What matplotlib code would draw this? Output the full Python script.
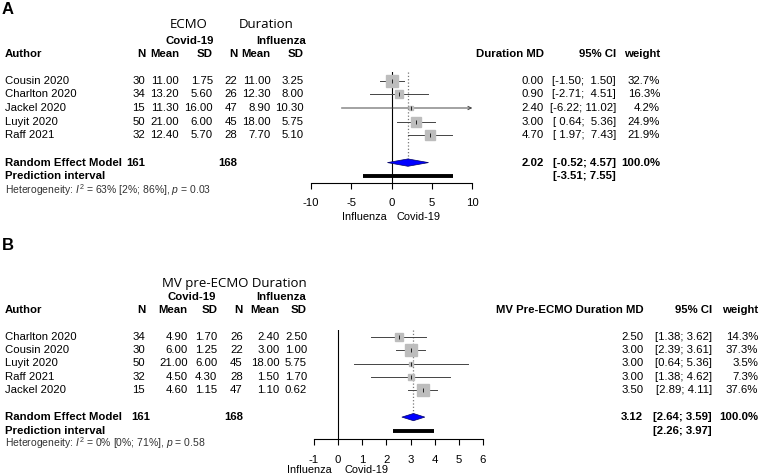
import numpy as np
import matplotlib
matplotlib.use("Agg")
import matplotlib.pyplot as plt
from matplotlib.patches import Polygon
from matplotlib.transforms import blended_transform_factory

plt.rcParams['font.family'] = ['Liberation Sans', 'DejaVu Sans']
plt.rcParams['mathtext.fontset'] = 'custom'
plt.rcParams['mathtext.rm'] = 'Liberation Sans'
plt.rcParams['mathtext.it'] = 'Liberation Sans:italic'
plt.rcParams['axes.unicode_minus'] = False

# ---- panel A: ECMO duration ----
authors_a = ["Cousin 2020", "Charlton 2020", "Jackel 2020", "Luyit 2020", "Raff 2021"]
n_cov_a = [30, 34, 15, 50, 32]
mean_cov_a = [11.00, 13.20, 11.30, 21.00, 12.40]
sd_cov_a = [1.75, 5.60, 16.00, 6.00, 5.70]
n_flu_a = [22, 26, 47, 45, 28]
mean_flu_a = [11.00, 12.30, 8.90, 18.00, 7.70]
sd_flu_a = [3.25, 8.00, 10.30, 5.75, 5.10]
md_a = [0.00, 0.90, 2.40, 3.00, 4.70]
lo_a = [-1.50, -2.71, -6.22, 0.64, 1.97]
hi_a = [1.50, 4.51, 11.02, 5.36, 7.43]
w_a = [32.7, 16.3, 4.2, 24.9, 21.9]
pooled_a = (2.02, -0.52, 4.57)
pred_a = (-3.51, 7.55)
het_a = r"Heterogeneity: $I^2$ = 63% [2%; 86%], $p$ = 0.03"
ticks_a = [-10, -5, 0, 5, 10]

# ---- panel B: MV pre-ECMO duration ----
authors_b = ["Charlton 2020", "Cousin 2020", "Luyit 2020", "Raff 2021", "Jackel 2020"]
n_cov_b = [34, 30, 50, 32, 15]
mean_cov_b = [4.90, 6.00, 21.00, 4.50, 4.60]
sd_cov_b = [1.70, 1.25, 6.00, 4.30, 1.15]
n_flu_b = [26, 22, 45, 28, 47]
mean_flu_b = [2.40, 3.00, 18.00, 1.50, 1.10]
sd_flu_b = [2.50, 1.00, 5.75, 1.70, 0.62]
md_b = [2.50, 3.00, 3.00, 3.00, 3.50]
lo_b = [1.38, 2.39, 0.64, 1.38, 2.89]
hi_b = [3.62, 3.61, 5.36, 4.62, 4.11]
w_b = [14.3, 37.3, 3.5, 7.3, 37.6]
pooled_b = (3.12, 2.64, 3.59)
pred_b = (2.26, 3.97)
het_b = r"Heterogeneity: $I^2$ = 0% [0%; 71%], $p$ = 0.58"
ticks_b = [-1, 0, 1, 2, 3, 4, 5, 6]

W, H = 759, 476
fig = plt.figure(figsize=(W / 100, H / 100), dpi=100)
bg = fig.add_axes([0, 0, 1, 1])
bg.set_xlim(0, W)
bg.set_ylim(H, 0)
bg.axis('off')

FS = 8.2


def ci_str(lo, hi):
    wl = max(len(f"{v:.2f}") for v in lo)
    wh = max(len(f"{v:.2f}") for v in hi)
    return [f"[{a:{wl}.2f}; {b:{wh}.2f}]" for a, b in zip(lo, hi)]


def panel(p):
    t = lambda x, y, s, **kw: bg.text(x, y, s, va='center', fontsize=kw.pop('fs', FS), **kw)
    # panel letter and titles
    t(2, p['y_letter'], p['letter'], fs=12, fontweight='bold')
    for x, s in p['titles']:
        t(x, p['y_title'], s, ha='center', fs=9.5, family='Open Sans')
    t(p['cx_cov'], p['y_group'], "Covid-19", ha='center', fontweight='bold')
    t(p['cx_flu'], p['y_group'], "Influenza", ha='center', fontweight='bold')
    cols = p['cols']
    t(5, p['y_head'], "Author", fontweight='bold')
    for x, s in zip(cols, ["N", "Mean", "SD", "N", "Mean", "SD"]):
        t(x, p['y_head'], s, ha='right', fontweight='bold')
    rx = p['rcols']
    t(rx[0], p['y_head'], p['md_label'], ha='right', fontweight='bold')
    t(rx[1], p['y_head'], "95% CI", ha='right', fontweight='bold')
    t(rx[2], p['y_head'], "weight", ha='right', fontweight='bold')

    cis = ci_str(p['lo'], p['hi'])
    for i, a in enumerate(p['authors']):
        y = p['y0'] + p['dy'] * i
        t(5, y, a)
        vals = [f"{p['n_cov'][i]}", f"{p['mean_cov'][i]:.2f}", f"{p['sd_cov'][i]:.2f}",
                f"{p['n_flu'][i]}", f"{p['mean_flu'][i]:.2f}", f"{p['sd_flu'][i]:.2f}"]
        for x, s in zip(cols, vals):
            t(x, y, s, ha='right')
        t(rx[0], y, f"{p['md'][i]:.2f}", ha='right')
        t(rx[1], y, cis[i], ha='right')
        t(rx[2], y, f"{p['w'][i]:.1f}%", ha='right')

    y_re = p['y0'] + p['dy'] * 6
    y_pi = p['y0'] + p['dy'] * 7
    t(5, y_re, "Random Effect Model", fontweight='bold')
    t(p['x_tot'][0], y_re, f"{sum(p['n_cov'])}", ha='right', fontweight='bold')
    t(p['x_tot'][1], y_re, f"{sum(p['n_flu'])}", ha='right', fontweight='bold')
    t(5, y_pi, "Prediction interval", fontweight='bold')
    est, plo, phi = p['pooled']
    t(rx[0], y_re, f"{est:.2f}", ha='right', fontweight='bold')
    t(rx[1], y_re, ci_str([plo], [phi])[0], ha='right', fontweight='bold')
    t(rx[2], y_re, "100.0%", ha='right', fontweight='bold')
    t(rx[1], y_pi, ci_str([p['pred'][0]], [p['pred'][1]])[0], ha='right', fontweight='bold')
    t(5, p['y_het'], p['het'], fs=7.5, color='#333333')

    # forest axes
    x0, x1, ytop, ybot = p['box']
    ax = fig.add_axes([x0 / W, 1 - ybot / H, (x1 - x0) / W, (ybot - ytop) / H])
    ax.patch.set_alpha(0)
    xmin, xmax = p['ticks'][0], p['ticks'][-1]
    ax.set_xlim(xmin, xmax)
    ax.set_ylim((ybot - p['y0']) / p['dy'], (ytop - p['y0']) / p['dy'])
    for s in ['top', 'right', 'left']:
        ax.spines[s].set_visible(False)
    ax.spines['bottom'].set_linewidth(0.8)
    ax.set_yticks([])
    ax.set_xticks(p['ticks'])
    ax.tick_params(axis='x', length=4, width=0.8, pad=7, labelsize=8.2)
    ax.axvline(0, color='black', lw=0.8)
    ax.plot([est, est], [ax.get_ylim()[1], 5.7], ls=':', color='#777777', lw=0.9)
    for i in range(len(p['md'])):
        lo, hi = p['lo'][i], p['hi'][i]
        lo_c, hi_c = max(lo, xmin), min(hi, xmax)
        if hi > xmax:
            ax.annotate('', xy=(hi_c, i), xytext=(lo_c, i),
                        arrowprops=dict(arrowstyle='->', lw=0.7, color='#444444',
                                        mutation_scale=6, shrinkA=0, shrinkB=0))
        else:
            ax.plot([lo_c, hi_c], [i, i], color='#444444', lw=0.7, zorder=2)
        side = 1.95 * np.sqrt(p['w'][i]) * 0.72
        ax.plot(p['md'][i], i, marker='s', ms=side, color='#bdbdbd', mec='#bdbdbd', zorder=3)
        ax.plot(p['md'][i], i, marker='|', ms=3, color='#222222', mew=0.7, zorder=4)
    h = 0.27
    ax.add_patch(Polygon([(plo, 6), (est, 6 - h), (phi, 6), (est, 6 + h)], closed=True,
                         facecolor='#0000ff', edgecolor='#000066', lw=0.5, zorder=5))
    ax.plot(list(p['pred']), [7, 7], color='black', lw=2.8, solid_capstyle='butt')
    tr = blended_transform_factory(ax.transData, bg.transData)
    gap = p['gap'] / ((x1 - x0) / (xmax - xmin))
    ax.text(-gap, p['y_lab'], "Influenza", ha='right', va='center', fontsize=7.9, transform=tr)
    ax.text(gap, p['y_lab'], "Covid-19", ha='left', va='center', fontsize=7.9, transform=tr)


panel(dict(letter="A", y_letter=9, titles=[(189, "ECMO"), (266, "Duration")], y_title=25,
           cx_cov=189.5, cx_flu=281, y_group=40.7, y_head=54,
           cols=[145, 179, 213, 237, 270.7, 304], rcols=[544, 616, 660],
           md_label="Duration MD", authors=authors_a, n_cov=n_cov_a, mean_cov=mean_cov_a,
           sd_cov=sd_cov_a, n_flu=n_flu_a, mean_flu=mean_flu_a, sd_flu=sd_flu_a,
           md=md_a, lo=lo_a, hi=hi_a, w=w_a, pooled=pooled_a, pred=pred_a, het=het_a,
           y0=80.7, dy=13.65, x_tot=[145, 237], y_het=190, box=(311, 472.3, 72, 182.7),
           ticks=ticks_a, y_lab=217, gap=5))

panel(dict(letter="B", y_letter=246, titles=[(234, "MV pre-ECMO Duration")], y_title=283,
           cx_cov=192, cx_flu=281, y_group=296.7, y_head=310,
           cols=[145, 187.7, 217.3, 242.7, 279.3, 307], rcols=[643.3, 711.7, 758],
           md_label="MV Pre-ECMO Duration MD", authors=authors_b, n_cov=n_cov_b,
           mean_cov=mean_cov_b, sd_cov=sd_cov_b, n_flu=n_flu_b, mean_flu=mean_flu_b,
           sd_flu=sd_flu_b, md=md_b, lo=lo_b, hi=hi_b, w=w_b, pooled=pooled_b, pred=pred_b,
           het=het_b, y0=336.7, dy=13.4, x_tot=[150, 243], y_het=443.5,
           box=(314, 483, 330, 439.3), ticks=ticks_b, y_lab=470, gap=6))

fig.savefig("out.png", dpi=100)
